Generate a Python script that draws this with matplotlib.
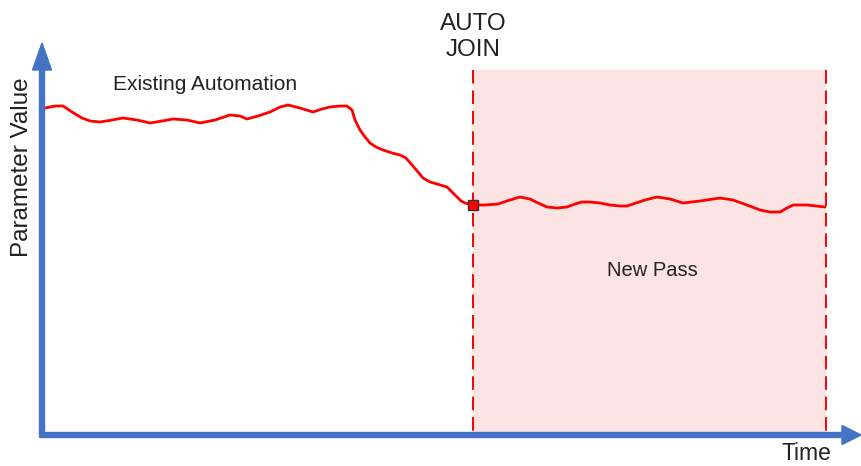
# plot.py - automation join diagram
import matplotlib.pyplot as plt
from matplotlib.patches import Rectangle, FancyArrow

plt.rcParams['font.family'] = ['Liberation Sans', 'DejaVu Sans']

# parameter curve (pixel-like units, y grows downward)
time_x = [45, 55, 63, 72, 82, 90, 100, 112, 123, 137, 150, 162, 173, 187, 200, 215,
          230, 240, 247, 258, 270, 280, 288, 300, 313, 322, 330, 340, 347, 352,
          355, 360, 365, 370, 376, 383, 392, 400, 406, 412, 418, 423, 430, 437,
          447, 452, 457, 461, 465, 473,
          485, 498, 510, 520, 530, 538, 547, 557, 567, 575, 582, 590, 600, 610,
          620, 627, 633, 645, 657, 670, 683, 700, 720, 733, 747, 760, 770, 780,
          787, 793, 800, 807, 816, 825]
param_y = [108, 106, 106, 112, 118, 121, 122, 120, 118, 120, 123, 121, 119, 120, 123, 120,
           115, 116, 119, 116, 112, 107, 105, 108, 112, 109, 107, 106, 106, 110,
           120, 130, 137, 143, 147, 150, 153, 155, 158, 165, 172, 178, 182, 184,
           187, 192, 197, 201, 203, 205,
           205, 204, 200, 197, 199, 203, 207, 208, 207, 204, 202, 202, 203, 205,
           206, 206, 204, 200, 197, 199, 203, 201, 198, 200, 205, 210, 212, 212,
           208, 205, 205, 205, 206, 207]

join_x, join_y = 473, 205
pass_start, pass_end = 473, 826
pass_top = 70

origin = (42, 435)
axis_blue = "#4472C4"

fig = plt.figure(figsize=(8.61, 4.66), dpi=100)
ax = fig.add_axes([0, 0, 1, 1])
ax.set_xlim(0, 861)
ax.set_ylim(466, 0)
ax.axis("off")

# new pass shaded region
ax.add_patch(Rectangle((pass_start, pass_top), pass_end - pass_start, origin[1] - pass_top,
                       facecolor="#FDE4E4", edgecolor="none", zorder=1))
for xv in (pass_start, pass_end):
    ax.plot([xv, xv], [pass_top, origin[1]], color="red", lw=1.4,
            dashes=(7, 3.5), zorder=2)

# axes arrows
ax.add_patch(FancyArrow(origin[0], origin[1] + 2, 0, 43 - origin[1] - 2, width=5,
                        head_width=19, head_length=27, length_includes_head=True,
                        color=axis_blue, zorder=4))
ax.add_patch(FancyArrow(origin[0] - 2, origin[1], 861 - origin[0] + 2, 0, width=5,
                        head_width=19, head_length=19, length_includes_head=True,
                        color=axis_blue, zorder=4))

# parameter curve
ax.plot(time_x, param_y, color="red", lw=2, solid_capstyle="round",
        solid_joinstyle="round", zorder=3)
ax.plot([join_x], [join_y], marker="s", ms=7, mfc="red", mec="#333333", mew=1, zorder=5)

# labels
ax.text(473, 37, "AUTO\nJOIN", ha="center", va="center", fontsize=17.4,
        linespacing=1.2, color="#222222")
ax.text(205, 84, "Existing Automation", ha="center", va="center", fontsize=15, color="#222222")
ax.text(652, 270, "New Pass", ha="center", va="center", fontsize=14.5, color="#222222")
ax.text(806, 453, "Time", ha="center", va="center", fontsize=16.5, color="#222222")
ax.text(22, 167, "Parameter Value", ha="center", va="center", fontsize=17.5,
        rotation=90, color="#222222")

fig.savefig("out.png", dpi=100)
